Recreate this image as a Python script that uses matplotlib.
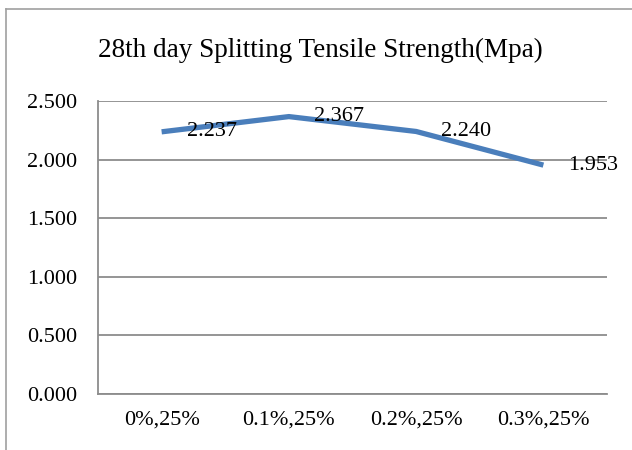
import matplotlib
matplotlib.use("Agg")
import matplotlib.pyplot as plt
from matplotlib.lines import Line2D

categories = ["0%,25%", "0.1%,25%", "0.2%,25%", "0.3%,25%"]
values = [2.237, 2.367, 2.240, 1.953]
labels = ["2.237", "2.367", "2.240", "1.953"]
yticks = [0.0, 0.5, 1.0, 1.5, 2.0, 2.5]
title = "28th day Splitting Tensile Strength(Mpa)"

plt.rcParams['font.family'] = ['Liberation Serif', 'DejaVu Serif']
W, H = 632, 450
fig = plt.figure(figsize=(W/100, H/100), dpi=100)
ax = fig.add_axes([98/W, 1-394/H, (607-98)/W, (394-101)/H])

grid_c = "#8c8c8c"
fs = 16
x = list(range(len(categories)))
ax.plot(x, values, color="#4a7ebb", lw=3.8, solid_capstyle="butt", zorder=3)
for xi, v, lab in zip(x, values, labels):
    ax.annotate(lab, (xi, v), xytext=(18, 0), textcoords="offset points",
                ha="left", va="center", fontsize=fs, color="black", zorder=4)

ax.set_xlim(-0.5, len(categories)-0.5)
ax.set_ylim(0, 2.5)
ax.set_yticks(yticks)
ax.set_yticklabels([f"{t:.3f}" for t in yticks], fontsize=fs)
ax.set_xticks(x)
ax.set_xticklabels(categories, fontsize=fs)
ax.tick_params(axis='y', length=0, pad=15)
ax.tick_params(axis='x', length=0, pad=12)
ax.yaxis.grid(True, color=grid_c, lw=1.3)
ax.set_axisbelow(True)
for s in ["top", "right"]:
    ax.spines[s].set_visible(False)
for s in ["left", "bottom"]:
    ax.spines[s].set_color(grid_c)
    ax.spines[s].set_linewidth(1.3)

fig.text(320/W, 1-50/H, title, ha="center", va="center", fontsize=19.5)

fig.add_artist(Line2D([6/W, 6/W], [0, 1-9/H], color="#a0a0a0", lw=1.2, transform=fig.transFigure))
fig.add_artist(Line2D([6/W, 1], [1-9/H, 1-9/H], color="#a0a0a0", lw=1.2, transform=fig.transFigure))

fig.savefig("out.png", dpi=100)
